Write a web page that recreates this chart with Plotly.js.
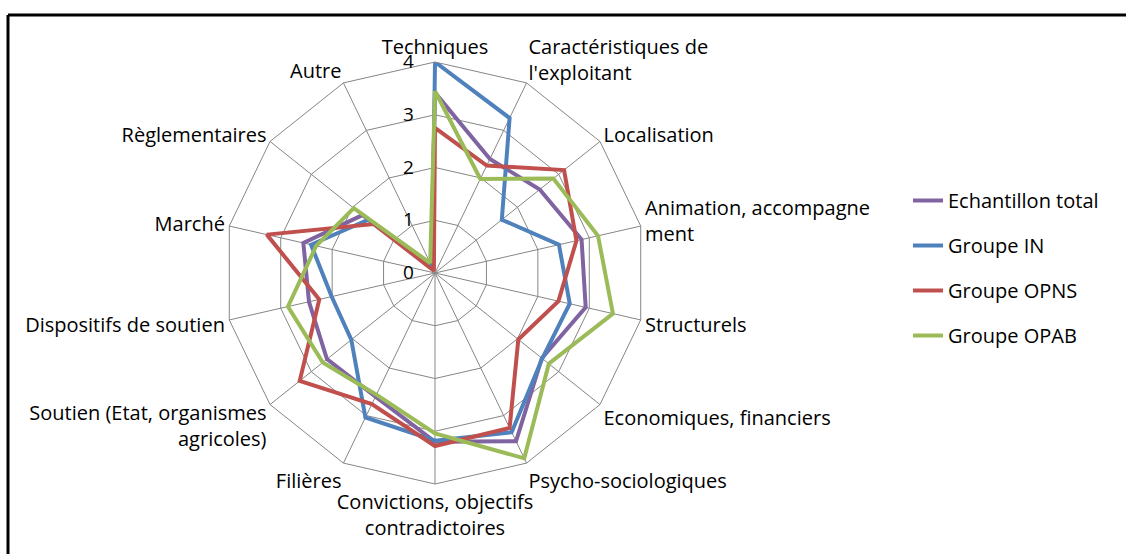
<!DOCTYPE html>
<html>
<head>
<meta charset="utf-8">
<script src="https://cdn.plot.ly/plotly-3.0.1.min.js"></script>
<style>html,body{margin:0;padding:0;background:#fff;}#chart{width:1126px;height:554px;}</style>
</head>
<body>
<div id="chart"></div>
<script>
const categories = ["Techniques", "Caractéristiques de<br>l'exploitant", "Localisation", "Animation, accompagne<br>ment", "Structurels", "Economiques, financiers", "Psycho-sociologiques", "Convictions, objectifs<br>contradictoires", "Filières", "Soutien (Etat, organismes<br>agricoles)", "Dispositifs de soutien", "Marché", "Règlementaires", "Autre"];
const seriesNames = ["Echantillon total", "Groupe IN", "Groupe OPNS", "Groupe OPAB"];
const echantillonTotal = [3.42, 2.4, 2.54, 2.85, 2.93, 2.59, 3.54, 3.2, 2.6, 2.62, 2.45, 2.56, 1.76, 0.17];
const groupeIN = [4.0, 3.26, 1.62, 2.41, 2.62, 2.6, 3.35, 3.18, 3.04, 2.03, 2.01, 2.41, 1.62, 0.12];
const groupeOPNS = [2.75, 2.26, 3.13, 2.75, 2.4, 2.02, 3.26, 3.28, 2.76, 3.28, 2.25, 3.27, 1.49, 0.05];
const groupeOPAB = [3.45, 1.98, 2.87, 3.17, 3.46, 2.76, 3.9, 3.04, 2.56, 2.72, 2.86, 2.31, 1.97, 0.21];
const radialTicks = [0, 1, 2, 3, 4];

const colors = ["#8064A2", "#4F81BD", "#C0504D", "#9BBB59"];
const allSeries = [echantillonTotal, groupeIN, groupeOPNS, groupeOPAB];
const FONT = "'Open Sans', Lato, sans-serif";

const traces = allSeries.map((vals, i) => ({
  type: "scatterpolar",
  mode: "lines",
  name: seriesNames[i],
  legendgroup: "g" + i,
  r: vals.concat([vals[0]]),
  theta: categories.concat([categories[0]]),
  line: {color: colors[i], width: 4},
  hoverinfo: "skip"
}));

const W = 1126, H = 554;
const cx = 435, cy = 273, R = 211;

const layout = {
  width: W, height: H,
  margin: {l: 0, r: 0, t: 0, b: 0},
  paper_bgcolor: "#ffffff",
  plot_bgcolor: "#ffffff",
  font: {family: FONT, size: 20, color: "#000"},
  showlegend: true,
  legend: {
    x: 908 / W, y: 1 - 181 / H, xanchor: "left", yanchor: "top",
    font: {family: FONT, size: 20, color: "#000"},
    tracegroupgap: 16,
    traceorder: "grouped",
    bgcolor: "rgba(0,0,0,0)"
  },
  polar: {
    domain: {x: [(cx - R) / W, (cx + R) / W], y: [1 - (cy + R) / H, 1 - (cy - R) / H]},
    gridshape: "linear",
    bgcolor: "#ffffff",
    angularaxis: {
      direction: "clockwise",
      rotation: 90,
      type: "category",
      categoryarray: categories,
      showline: true,
      linecolor: "#868686",
      linewidth: 1,
      gridcolor: "#868686",
      gridwidth: 1,
      ticks: "",
      tickfont: {family: FONT, size: 20, color: "#000"}
    },
    radialaxis: {
      range: [0, 4],
      angle: 90,
      tickangle: 90,
      tickvals: radialTicks,
      ticktext: radialTicks.map(String),
      showline: false,
      gridcolor: "#868686",
      gridwidth: 1,
      ticks: "outside",
      ticklen: 14,
      tickcolor: "rgba(0,0,0,0)",
      side: "counterclockwise",
      tickfont: {family: FONT, size: 19, color: "#000"}
    }
  },
  shapes: [
    {type: "line", xref: "paper", yref: "paper", x0: 8 / W, x1: 1, y0: 1 - 15 / H, y1: 1 - 15 / H, line: {color: "#000", width: 3}},
    {type: "line", xref: "paper", yref: "paper", x0: 8 / W, x1: 8 / W, y0: 1 - 15 / H, y1: 0, line: {color: "#000", width: 3}}
  ]
};

Plotly.newPlot("chart", traces, layout, {displayModeBar: false, staticPlot: true});
</script>
</body>
</html>
